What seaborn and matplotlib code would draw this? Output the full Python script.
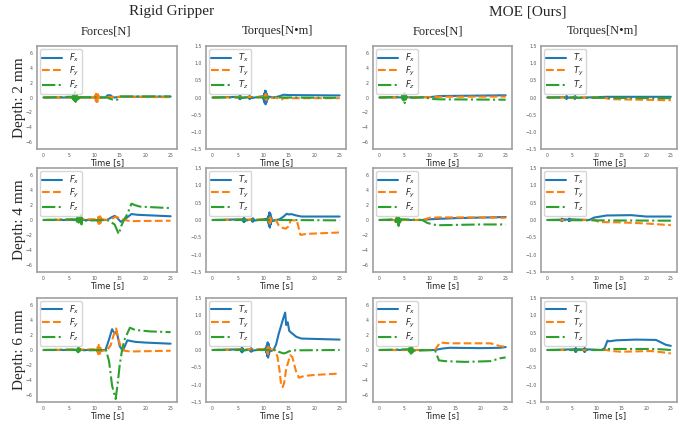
import numpy as np
import pandas as pd
import matplotlib
matplotlib.use("Agg")
import matplotlib.pyplot as plt
import seaborn as sns

sns.set_style("white")
plt.rcParams['font.family'] = ['DejaVu Sans']
plt.rcParams['mathtext.fontset'] = 'dejavusans'

BLUE, ORANGE, GREEN = '#1f77b4', '#ff7f0e', '#2ca02c'
BURST_DT = 0.09  # spacing of the points inside a vibration burst [s]

# ---------------- data: knots (time [s], value) ----------------
# bursts: (start time, zig-zag values)

# depth 2 mm, rigid gripper
rg2_fx_t = [0, 12.2, 12.6, 13.2, 13.6, 14.0, 15, 25]
rg2_fx_v = [0, 0, 0.3, 0.3, 0.05, 0.0, 0.1, 0.12]
rg2_fy_t = [0, 10, 11.2, 12, 14, 25]
rg2_fy_v = [0, 0, 0, 0.05, 0.08, 0.05]
rg2_fy_b = [(10.0, [0.1, -0.2, 0.3, -0.4, 0.5, -0.6, 0.6, -0.55, 0.45, -0.35, 0.2, -0.1])]
rg2_fz_t = [0, 12.5, 13.2, 14.0, 14.5, 15, 25]
rg2_fz_v = [0, 0, -0.2, -0.35, -0.3, 0.15, 0.15]
rg2_fz_b = [(5.7, [0.1, -0.2, 0.3, -0.35, 0.5, -0.4, 0.8, -0.6, 0.5, -0.45, 0.4, -0.3, 0.3, -0.2, 0.15, -0.1, 0.05])]

rg2_tx_t = [0, 12, 13, 14, 15, 25]
rg2_tx_v = [0, 0, 0.03, 0.08, 0.07, 0.06]
rg2_tx_b = [(5.2, [0.02, -0.04, 0.05, -0.05, 0.04, -0.02]),
            (7.1, [0.02, -0.03, 0.04, -0.04, 0.03, -0.02]),
            (10.0, [0.04, -0.08, 0.12, -0.16, 0.2, -0.2, 0.18, -0.14, 0.1, -0.06, 0.03])]
rg2_ty_t = [0, 12.5, 13.2, 13.6, 14, 25]
rg2_ty_v = [0, 0, -0.05, -0.06, -0.02, -0.02]
rg2_ty_b = [(10.15, [0.02, -0.05, 0.08, -0.1, 0.1, -0.08, 0.05, -0.02])]
rg2_tz_t = [0, 14, 25]
rg2_tz_v = [0, 0, -0.01]

# depth 2 mm, MOE
mo2_fx_t = [0, 10, 12, 25]
mo2_fx_v = [0, 0.05, 0.2, 0.3]
mo2_fy_t = [0, 10, 12, 25]
mo2_fy_v = [0, 0.05, 0.1, 0.12]
mo2_fz_t = [0, 9, 10.5, 12, 25]
mo2_fz_v = [0, 0, -0.2, -0.25, -0.3]
mo2_fz_b = [(4.4, [0.1, -0.15, 0.3, -0.3, 0.5, -0.4, 0.6, -0.75, 0.4, -0.3, 0.25, -0.15, 0.1, -0.05])]

mo2_tx_t = [0, 10, 12, 25]
mo2_tx_v = [0, 0.01, 0.02, 0.02]
mo2_tx_b = [(3.7, [0.01, -0.03, 0.04, -0.04, 0.03, -0.01]),
            (5.4, [0.01, -0.03, 0.04, -0.04, 0.03, -0.01])]
mo2_ty_t = [0, 11, 13, 25]
mo2_ty_v = [0, 0, -0.05, -0.08]
mo2_tz_t = [0, 11, 25]
mo2_tz_v = [0, -0.01, -0.02]

# depth 4 mm, rigid gripper
rg4_fx_t = [0, 12.5, 13.5, 14, 14.5, 15.2, 16, 17.3, 18.5, 25]
rg4_fx_v = [0, 0, 0.4, 0.55, 0.3, -0.25, 0.1, 0.8, 0.7, 0.5]
rg4_fy_t = [0, 12.5, 13.5, 14.3, 15, 16, 17, 25]
rg4_fy_v = [0, 0, 0.2, 0.45, 0.2, 0.0, -0.15, -0.1]
rg4_fy_b = [(6.5, [0.1, -0.2, 0.3, -0.2, 0.25, -0.3, 0.2, -0.15, 0.1]),
            (10.6, [0.1, -0.25, 0.4, -0.5, 0.6, -0.6, 0.5, -0.4, 0.3, -0.2, 0.1])]
rg4_fz_t = [0, 12.5, 13.3, 14.0, 14.8, 15.3, 15.9, 16.5, 17.3, 18, 19, 25]
rg4_fz_v = [0, 0, -0.3, -0.6, -1.9, -0.8, 0.1, 0.8, 2.2, 2.0, 1.8, 1.6]
rg4_fz_b = [(6.5, [0.1, -0.2, 0.3, -0.3, 0.4, -0.35, 0.3, -0.4, 0.2, -0.2, 1.0, -0.6, 0.3, -0.1])]

rg4_tx_t = [0, 12.5, 13.2, 14, 14.6, 15, 15.5, 16.5, 17.5, 25]
rg4_tx_v = [0, 0, 0.02, 0.1, 0.18, 0.16, 0.17, 0.13, 0.1, 0.1]
rg4_tx_b = [(6.0, [0.02, -0.05, 0.06, -0.06, 0.04, -0.02]),
            (7.7, [0.02, -0.04, 0.05, -0.05, 0.04, -0.02]),
            (10.85, [0.04, -0.08, 0.12, -0.17, 0.22, -0.22, 0.18, -0.13, 0.08, -0.04])]
rg4_ty_t = [0, 12.5, 13, 13.6, 14.4, 15, 15.4, 16.6, 17.3, 18.5, 25]
rg4_ty_v = [0, 0, -0.15, -0.22, -0.25, -0.18, 0.0, -0.02, -0.43, -0.4, -0.36]
rg4_ty_b = [(11.0, [0.02, -0.06, 0.1, -0.1, 0.08, -0.05, 0.02])]
rg4_tz_t = [0, 14, 25]
rg4_tz_v = [0, 0, -0.01]

# depth 4 mm, MOE
mo4_fx_t = [0, 8.5, 10, 15, 25]
mo4_fx_v = [0, 0, 0.1, 0.25, 0.4]
mo4_fy_t = [0, 8.5, 10, 12, 20, 25]
mo4_fy_v = [0, 0, 0.3, 0.35, 0.35, 0.3]
mo4_fz_t = [0, 8.5, 9.5, 11, 12, 20, 25]
mo4_fz_v = [0, 0, -0.4, -0.65, -0.7, -0.6, -0.6]
mo4_fz_b = [(3.1, [0.1, -0.2, 0.3, -0.3, 0.4, -0.3, 0.2, -0.5, -0.8, 0.3, -0.4, 0.2, -0.2, 0.1])]

mo4_tx_t = [0, 8.5, 9.5, 12, 17, 20, 25]
mo4_tx_v = [0, 0, 0.07, 0.13, 0.14, 0.1, 0.1]
mo4_tx_b = [(2.8, [0.01, -0.03, 0.04, -0.03, 0.02]),
            (4.3, [0.01, -0.03, 0.04, -0.03, 0.02])]
mo4_ty_t = [0, 9.5, 10.5, 15, 20, 25]
mo4_ty_v = [0, 0, -0.06, -0.07, -0.1, -0.15]
mo4_tz_t = [0, 9.5, 25]
mo4_tz_v = [0, -0.01, -0.02]

# depth 6 mm, rigid gripper
rg6_fx_t = [0, 12.2, 12.8, 13.5, 14.0, 14.4, 15.0, 15.6, 16.5, 18, 20, 25]
rg6_fx_v = [0, 0, 1.2, 2.8, 2.2, 2.5, 0.5, -0.1, 1.3, 1.1, 1.0, 0.85]
rg6_fy_t = [0, 12.5, 13.2, 13.8, 14.3, 14.7, 15.2, 16, 17, 25]
rg6_fy_v = [0, 0, 0.6, 2.0, 2.9, 1.5, 0.5, -0.1, -0.2, -0.1]
rg6_fy_b = [(10.5, [0.1, -0.25, 0.4, -0.55, 0.7, -0.7, 0.6, -0.45, 0.3, -0.15])]
rg6_fz_t = [0, 12.3, 12.9, 13.5, 14.2, 14.6, 15.0, 15.5, 16.0, 17.0, 18, 21, 25]
rg6_fz_v = [0, 0, -1.5, -4.8, -6.6, -4.5, -2.0, 0.2, 1.5, 3.0, 2.7, 2.5, 2.4]
rg6_fz_b = [(6.5, [0.05, -0.1, 0.2, -0.3, 0.3, -0.25, 0.2, -0.15, 0.1, -0.05])]

rg6_tx_t = [0, 12, 12.5, 13, 13.5, 13.9, 14.3, 14.5, 14.8, 15.1, 15.5, 16.5, 17.5, 25]
rg6_tx_v = [0, 0, 0.15, 0.45, 0.7, 0.9, 1.08, 0.72, 0.8, 0.55, 0.5, 0.38, 0.33, 0.3]
rg6_tx_b = [(5.6, [0.02, -0.05, 0.07, -0.07, 0.05, -0.02]),
            (7.4, [0.02, -0.04, 0.05, -0.05, 0.04, -0.02]),
            (10.5, [0.04, -0.08, 0.13, -0.18, 0.22, -0.22, 0.18, -0.13, 0.08, -0.04])]
rg6_ty_t = [0, 12.3, 12.8, 13.2, 13.5, 13.8, 14.1, 14.5, 14.9, 15.3, 15.7, 16.4, 17.0, 18.0, 20, 25]
rg6_ty_v = [0, 0, -0.2, -0.6, -1.0, -1.07, -0.95, -0.55, -0.35, -0.15, -0.2, -0.6, -0.8, -0.75, -0.72, -0.68]
rg6_ty_b = [(10.65, [0.03, -0.07, 0.12, -0.12, 0.1, -0.06, 0.03])]
rg6_tz_t = [0, 12.3, 13, 14, 14.5, 15, 16, 25]
rg6_tz_v = [0, 0, -0.05, -0.1, -0.08, -0.04, -0.01, 0]

# depth 6 mm, MOE
mo6_fx_t = [0, 11, 12.5, 14, 20, 24, 25]
mo6_fx_v = [0, 0, 0.2, 0.3, 0.25, 0.3, 0.4]
mo6_fy_t = [0, 11, 12, 14, 22, 23, 24, 25]
mo6_fy_v = [0, 0, 1.0, 0.9, 0.9, 0.7, 0.5, 0.45]
mo6_fz_t = [0, 11, 11.8, 13, 17, 22, 24, 25]
mo6_fz_v = [0, 0, -1.4, -1.5, -1.6, -1.5, -1.1, -1.0]
mo6_fz_b = [(5.8, [0.1, -0.2, 0.3, -0.3, 0.4, -0.5, 0.6, -0.4, 0.3, -0.3, 0.2, -0.1])]

mo6_tx_t = [0, 11, 11.6, 12.2, 12.5, 14, 18, 22, 23, 24, 25]
mo6_tx_v = [0, 0, 0.05, 0.27, 0.25, 0.28, 0.3, 0.29, 0.22, 0.15, 0.12]
mo6_tx_b = [(5.6, [0.02, -0.05, 0.06, -0.05, 0.02]),
            (7.4, [0.02, -0.05, 0.06, -0.05, 0.02])]
mo6_ty_t = [0, 12, 13, 15, 21, 23, 25]
mo6_ty_v = [0, 0, -0.03, -0.05, -0.03, -0.06, -0.1]
mo6_tz_t = [0, 11, 12.5, 22, 25]
mo6_tz_v = [0, 0, 0.03, 0.03, 0.0]

depth_labels = ['Depth: 2 mm', 'Depth: 4 mm', 'Depth: 6 mm']
force_labels = ['$F_x$', '$F_y$', '$F_z$']
torque_labels = ['$T_x$', '$T_y$', '$T_z$']
force_ticks = [-6, -4, -2, 0, 2, 4, 6]
torque_ticks = [-1.5, -1.0, -0.5, 0.0, 0.5, 1.0, 1.5]
time_ticks = [0, 5, 10, 15, 20, 25]


def series(t, v, bursts=()):
    # knots plus the zig-zag points of the vibration bursts, ordered in time
    pts = list(zip(t, v))
    for t0, vals in bursts:
        pts += [(t0 + i * BURST_DT, y) for i, y in enumerate(vals)]
    pts.sort()
    return pd.DataFrame(pts, columns=['t', 'y'])


panels = [
    [[(rg2_fx_t, rg2_fx_v, []), (rg2_fy_t, rg2_fy_v, rg2_fy_b), (rg2_fz_t, rg2_fz_v, rg2_fz_b)],
     [(rg2_tx_t, rg2_tx_v, rg2_tx_b), (rg2_ty_t, rg2_ty_v, rg2_ty_b), (rg2_tz_t, rg2_tz_v, [])],
     [(mo2_fx_t, mo2_fx_v, []), (mo2_fy_t, mo2_fy_v, []), (mo2_fz_t, mo2_fz_v, mo2_fz_b)],
     [(mo2_tx_t, mo2_tx_v, mo2_tx_b), (mo2_ty_t, mo2_ty_v, []), (mo2_tz_t, mo2_tz_v, [])]],
    [[(rg4_fx_t, rg4_fx_v, []), (rg4_fy_t, rg4_fy_v, rg4_fy_b), (rg4_fz_t, rg4_fz_v, rg4_fz_b)],
     [(rg4_tx_t, rg4_tx_v, rg4_tx_b), (rg4_ty_t, rg4_ty_v, rg4_ty_b), (rg4_tz_t, rg4_tz_v, [])],
     [(mo4_fx_t, mo4_fx_v, []), (mo4_fy_t, mo4_fy_v, []), (mo4_fz_t, mo4_fz_v, mo4_fz_b)],
     [(mo4_tx_t, mo4_tx_v, mo4_tx_b), (mo4_ty_t, mo4_ty_v, []), (mo4_tz_t, mo4_tz_v, [])]],
    [[(rg6_fx_t, rg6_fx_v, []), (rg6_fy_t, rg6_fy_v, rg6_fy_b), (rg6_fz_t, rg6_fz_v, rg6_fz_b)],
     [(rg6_tx_t, rg6_tx_v, rg6_tx_b), (rg6_ty_t, rg6_ty_v, rg6_ty_b), (rg6_tz_t, rg6_tz_v, [])],
     [(mo6_fx_t, mo6_fx_v, []), (mo6_fy_t, mo6_fy_v, []), (mo6_fz_t, mo6_fz_v, mo6_fz_b)],
     [(mo6_tx_t, mo6_tx_v, mo6_tx_b), (mo6_ty_t, mo6_ty_v, []), (mo6_tz_t, mo6_tz_v, [])]],
]

W, H = 689, 421
fig = plt.figure(figsize=(W / 100, H / 100), dpi=100)

col_x = [(37, 177), (206, 346), (373, 512), (541, 677)]
row_y = [(46, 149), (168, 272), (298, 402)]
colors = [BLUE, ORANGE, GREEN]
styles = ['-', '--', '-.']

for r in range(3):
    for c in range(4):
        x0, x1 = col_x[c]
        y0, y1 = row_y[r]
        ax = fig.add_axes([x0 / W, 1 - y1 / H, (x1 - x0) / W, (y1 - y0) / H])
        is_force = c % 2 == 0
        labels = force_labels if is_force else torque_labels
        for k, (t, v, b) in enumerate(panels[r][c]):
            df = series(t, v, b)
            sns.lineplot(data=df, x='t', y='y', ax=ax, color=colors[k], linestyle=styles[k],
                         linewidth=1.5, label=labels[k], sort=False, estimator=None)
        ax.set_xlim(-1.25, 26.25)
        if is_force:
            ax.set_ylim(-7, 7)
            ax.set_yticks(force_ticks)
        else:
            ax.set_ylim(-1.5, 1.5)
            ax.set_yticks(torque_ticks)
        ax.set_xticks(time_ticks)
        ax.tick_params(labelsize=3.3, length=2, width=0.5, colors='#555555', pad=1.2)
        for s in ax.spines.values():
            s.set_color('#a0a0a0')
            s.set_linewidth(1.2)
        ax.set_xlabel('Time [s]', fontsize=6, labelpad=0)
        ax.set_ylabel('')
        ax.legend(loc='upper left', fontsize=6, handlelength=2.3, borderpad=0.3,
                  labelspacing=0.1, handletextpad=0.9, borderaxespad=0.35)

serif = 'Liberation Serif'
fig.text(172 / W, 1 - 12 / H, 'Rigid Gripper', family=serif, fontsize=11, ha='center', va='center')
fig.text(528 / W, 1 - 12 / H, 'MOE [Ours]', family=serif, fontsize=11, ha='center', va='center')
for xc, name in zip([106, 277, 438, 602], ['Forces[N]', 'Torques[N•m]', 'Forces[N]', 'Torques[N•m]']):
    fig.text(xc / W, 1 - 31 / H, name, family=serif, fontsize=9, ha='center', va='center')
for (y0, y1), lab in zip(row_y, depth_labels):
    fig.text(20 / W, 1 - (y0 + y1) / 2 / H, lab, family=serif, fontsize=11, rotation=90,
             ha='center', va='center')

fig.savefig('out.png', dpi=100)
